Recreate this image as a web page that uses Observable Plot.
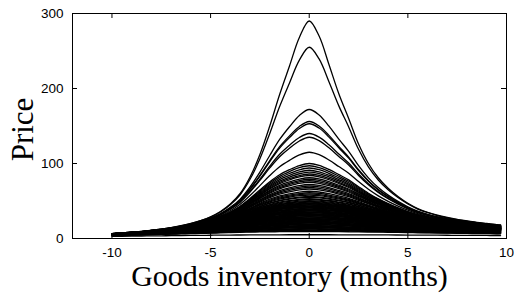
<!DOCTYPE html>
<html><head><meta charset="utf-8">
<script src="https://cdn.jsdelivr.net/npm/d3@7"></script>
<script src="https://cdn.jsdelivr.net/npm/@observablehq/plot@0.6"></script>
<style>body{margin:0;background:#fff} #chart{width:514px;height:297px}</style>
</head><body><div id="chart"></div>
<script>
// Sample positions along the x axis (months)
const months = [-10,-9.5,-9,-8.5,-8,-7.5,-7,-6.5,-6,-5.5,-5,-4.5,-4,-3.5,-3,-2.5,-2,-1.5,-1,-0.5,0,
  0.5,1,1.5,2,2.5,3,3.5,4,4.5,5,5.5,6,6.5,7,7.5,8,8.5,9,9.5,9.7];
// Highest curve
const topCurve = [6.5,7.5,8.5,9.5,11,12.5,14.5,17,20,24,29,36,46,60,82,112,150,192,230,268,290,
  270,232,193,160,126,100,81,67,56,47,40,35,31,28,25.5,23.5,21.5,20,18.5,18];
// Peak price of each curve (at 0 months)
const peaks = [290,255,172,156,153,140,135,115,100,97,94,91,88.5,86,84,81,79,77,75,72,70,68,66,63,61,59.5,58,56,55,53,52,50.5,49.5,48.5,
  47.5,46.8,46,45.1,44.4,43.5,42.8,42,41.3,40.4,39.6,38.9,38,37.1,36.4,35.6,34.7,34,33.2,32.3,31.6,30.8,30,29.1,28.4,27.6,26.7,26,25.2,24.3,23.6,22.8,22,21.1,20.4,19.6,18.7,18,17.2,16.3,15.6,14.8,14,13.1,12.4,11.6,10.7,10,9.2,5];
const xTicks = [-10,-5,0,5,10];
const yTicks = [0,100,200,300];
const xLabel = "Goods inventory (months)";
const yLabel = "Price";

const xDomain = [-12, 10], yDomain = [0, 300];
const W = 514, H = 297, mL = 72, mR = 8, mT = 13, mB = 59;
const tickLenX = 5 * (xDomain[1]-xDomain[0]) / (W-mL-mR);
const tickLenY = 5 * (yDomain[1]-yDomain[0]) / (H-mT-mB);

const topPeak = peaks[0];
const rows = [];
peaks.forEach((p, i) => months.forEach((m, j) => {
  rows.push({id: i, x: m, y: 1 / (1/p + 1/topCurve[j] - 1/topPeak)});
}));

const serif = "'Liberation Serif', 'Times New Roman', serif";
const chart = Plot.plot({
  width: W, height: H,
  marginLeft: mL, marginRight: mR, marginTop: mT, marginBottom: mB,
  style: {background: "#fff", color: "#000", fontFamily: "'Liberation Sans', Arial, sans-serif", fontSize: "13.5px"},
  x: {domain: xDomain},
  y: {domain: yDomain},
  marks: [
    Plot.line(rows, {x: "x", y: "y", z: "id", stroke: "#000", strokeWidth: 1.3, curve: "catmull-rom"}),
    Plot.frame({stroke: "#000", strokeWidth: 1}),
    Plot.ruleX(xTicks, {x: d => d, y1: yDomain[0], y2: yDomain[0] + tickLenY, stroke: "#000"}),
    Plot.ruleX(xTicks, {x: d => d, y1: yDomain[1] - tickLenY, y2: yDomain[1], stroke: "#000"}),
    Plot.ruleY(yTicks, {y: d => d, x1: xDomain[0], x2: xDomain[0] + tickLenX, stroke: "#000"}),
    Plot.ruleY(yTicks, {y: d => d, x1: xDomain[1] - tickLenX, x2: xDomain[1], stroke: "#000"}),
    Plot.axisX({ticks: xTicks, tickSize: 0, tickPadding: 9, label: null, fontSize: 13.5, tickFormat: d => String(d)}),
    Plot.axisY({ticks: yTicks, tickSize: 0, tickPadding: 9, label: null, fontSize: 13.5, tickFormat: d => String(d)}),
    Plot.text([xLabel], {frameAnchor: "bottom", text: d => d, textAnchor: "middle", lineAnchor: "middle", dy: 38, fontSize: 30, fontFamily: serif, fill: "#000"}),
    Plot.text([yLabel], {frameAnchor: "left", text: d => d, textAnchor: "middle", lineAnchor: "middle", dx: -49, dy: 3.5, rotate: -90, fontSize: 31, fontFamily: serif, fill: "#000"})
  ]
});
document.getElementById("chart").appendChild(chart);
</script>
</body></html>
